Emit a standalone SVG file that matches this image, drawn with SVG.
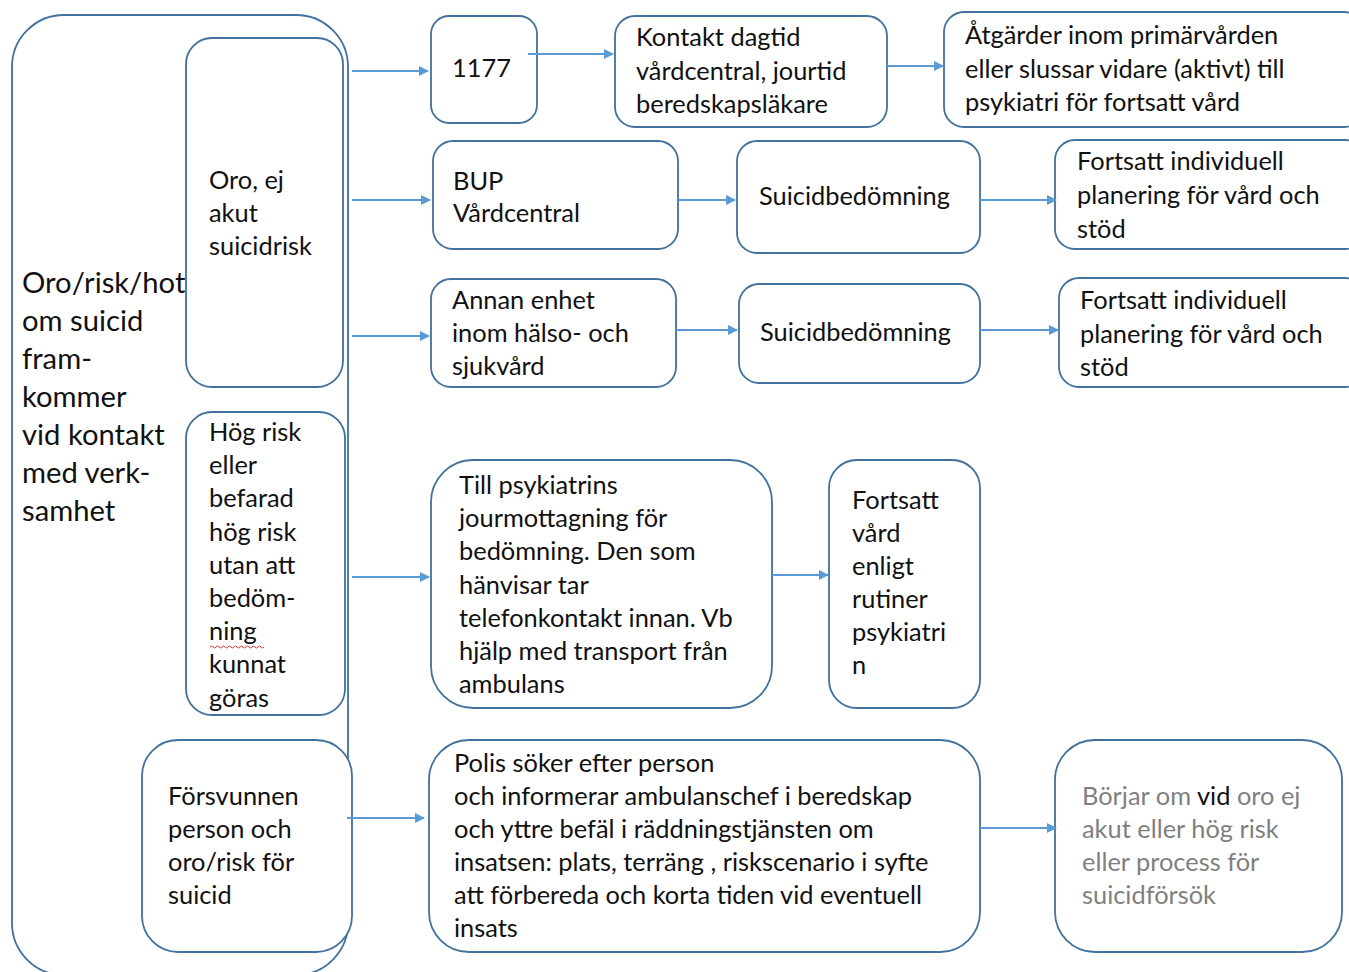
<svg xmlns="http://www.w3.org/2000/svg" width="1349" height="972" viewBox="0 0 1349 972">
<style>
.box{fill:#fff;stroke:#41719c;stroke-width:1.8}
.outer{fill:none;stroke:#41719c;stroke-width:1.8}
.t{font-family:Lato,"Open Sans","Liberation Sans",sans-serif;font-size:25.4px;fill:#111}
.big{font-family:Lato,"Open Sans","Liberation Sans",sans-serif;font-size:29.2px;fill:#111}
.g{fill:#7f7f7f}
.c{stroke:#5b9bd5;stroke-width:2;fill:none;marker-end:url(#ah)}
</style>
<defs>
<marker id="ah" viewBox="0 0 10 10" refX="9" refY="5" markerWidth="5" markerHeight="5" orient="auto" markerUnits="strokeWidth">
<path d="M0,0 L10,5 L0,10 z" fill="#5b9bd5"/>
</marker>
</defs>
<rect width="1349" height="972" fill="#fff"/>

<g id="outer">
<rect class="outer" x="12" y="15" width="336" height="960" rx="52" ry="52"/>
<text class="big" x="22" y="293">Oro/risk/hot<tspan x="22" dy="38">om suicid</tspan><tspan x="22" dy="38">fram-</tspan><tspan x="22" dy="38">kommer</tspan><tspan x="22" dy="38">vid kontakt</tspan><tspan x="22" dy="38">med verk-</tspan><tspan x="22" dy="38">samhet</tspan></text>
</g>

<g id="n-oro">
<rect class="box" x="186" y="38" width="157" height="349" rx="26"/>
<text class="t" x="209" y="189">Oro, ej<tspan x="209" dy="33">akut</tspan><tspan x="209" dy="33">suicidrisk</tspan></text>
</g>

<g id="n-hog">
<rect class="box" x="186" y="412" width="159" height="303" rx="26"/>
<text class="t" x="209" y="441">Hög risk<tspan x="209" dy="33.2">eller</tspan><tspan x="209" dy="33.2">befarad</tspan><tspan x="209" dy="33.2">hög risk</tspan><tspan x="209" dy="33.2">utan att</tspan><tspan x="209" dy="33.2">bedöm-</tspan><tspan x="209" dy="33.2">ning</tspan><tspan x="209" dy="33.2">kunnat</tspan><tspan x="209" dy="33.2">göras</tspan></text>
<path d="M210,647 q1.5,-2 3,0 t3,0 t3,0 t3,0 t3,0 t3,0 t3,0 t3,0 t3,0 t3,0 t3,0 t3,0 t3,0 t3,0 t3,0 t3,0 t3,0 t3,0" fill="none" stroke="#e03030" stroke-width="1"/>
</g>

<g id="n-forsv">
<rect class="box" x="142" y="740" width="210" height="212" rx="36"/>
<text class="t" x="168" y="805">Försvunnen<tspan x="168" dy="33">person och</tspan><tspan x="168" dy="33">oro/risk för</tspan><tspan x="168" dy="33">suicid</tspan></text>
</g>

<g id="n-1177">
<rect class="box" x="431" y="16" width="106" height="107" rx="18"/>
<text class="t" x="452" y="77">1177</text>
</g>

<g id="n-kontakt">
<rect class="box" x="615" y="16" width="272" height="111" rx="20"/>
<text class="t" x="636" y="46">Kontakt dagtid<tspan x="636" dy="33.5">vårdcentral, jourtid</tspan><tspan x="636" dy="33.5">beredskapsläkare</tspan></text>
</g>

<g id="n-atgarder">
<rect class="box" x="944" y="12" width="420" height="115" rx="20"/>
<text class="t" x="965" y="44">Åtgärder inom primärvården<tspan x="965" dy="33.5">eller slussar vidare (aktivt) till</tspan><tspan x="965" dy="33.5">psykiatri för fortsatt vård</tspan></text>
</g>

<g id="n-bup">
<rect class="box" x="433" y="141" width="245" height="108" rx="20"/>
<text class="t" x="453" y="190">BUP<tspan x="453" dy="32">Vårdcentral</tspan></text>
</g>

<g id="n-suicid1">
<rect class="box" x="737" y="141" width="243" height="112" rx="20"/>
<text class="t" x="759" y="205">Suicidbedömning</text>
</g>

<g id="n-fortsatt1">
<rect class="box" x="1055" y="140" width="310" height="109" rx="20"/>
<text class="t" x="1077" y="170">Fortsatt individuell<tspan x="1077" dy="34">planering för vård och</tspan><tspan x="1077" dy="34">stöd</tspan></text>
</g>

<g id="n-annan">
<rect class="box" x="431" y="279" width="245" height="108" rx="20"/>
<text class="t" x="452" y="309">Annan enhet<tspan x="452" dy="33">inom hälso- och</tspan><tspan x="452" dy="33">sjukvård</tspan></text>
</g>

<g id="n-suicid2">
<rect class="box" x="739" y="284" width="241" height="99" rx="20"/>
<text class="t" x="760" y="341">Suicidbedömning</text>
</g>

<g id="n-fortsatt2">
<rect class="box" x="1059" y="278" width="306" height="109" rx="20"/>
<text class="t" x="1080" y="309">Fortsatt individuell<tspan x="1080" dy="34">planering för vård och</tspan><tspan x="1080" dy="33">stöd</tspan></text>
</g>

<g id="n-till">
<rect class="box" x="431" y="460" width="341" height="248" rx="42"/>
<text class="t" x="459" y="494">Till psykiatrins<tspan x="459" dy="33.2">jourmottagning för</tspan><tspan x="459" dy="33.2">bedömning. Den som</tspan><tspan x="459" dy="33.2">hänvisar tar</tspan><tspan x="459" dy="33.2">telefonkontakt innan. Vb</tspan><tspan x="459" dy="33.2">hjälp med transport från</tspan><tspan x="459" dy="33.2">ambulans</tspan></text>
</g>

<g id="n-fortsattvard">
<rect class="box" x="829" y="460" width="151" height="248" rx="28"/>
<text class="t" x="852" y="509">Fortsatt<tspan x="852" dy="33">vård</tspan><tspan x="852" dy="33">enligt</tspan><tspan x="852" dy="33">rutiner</tspan><tspan x="852" dy="33">psykiatri</tspan><tspan x="852" dy="33">n</tspan></text>
</g>

<g id="n-polis">
<rect class="box" x="429" y="740" width="551" height="212" rx="40"/>
<text class="t" x="454" y="772">Polis söker efter person<tspan x="454" dy="33">och informerar ambulanschef i beredskap</tspan><tspan x="454" dy="33">och yttre befäl i räddningstjänsten om</tspan><tspan x="454" dy="33">insatsen: plats, terräng , riskscenario i syfte</tspan><tspan x="454" dy="33">att förbereda och korta tiden vid eventuell</tspan><tspan x="454" dy="33">insats</tspan></text>
</g>

<g id="n-borjar">
<rect class="box" x="1055" y="740" width="287" height="212" rx="40"/>
<text class="t g" x="1082" y="805">Börjar om <tspan fill="#111">vid</tspan> oro ej<tspan x="1082" dy="33">akut eller hög risk</tspan><tspan x="1082" dy="33">eller process för</tspan><tspan x="1082" dy="33">suicidförsök</tspan></text>
</g>

<g id="connectors">
<path class="c" d="M352,71 H428"/>
<path class="c" d="M528,54 H613"/>
<path class="c" d="M887,66 H943"/>
<path class="c" d="M352,200 H430"/>
<path class="c" d="M678,200 H735"/>
<path class="c" d="M980,200 H1056"/>
<path class="c" d="M352,336 H429"/>
<path class="c" d="M676,330 H737"/>
<path class="c" d="M980,330 H1058"/>
<path class="c" d="M352,577 H429"/>
<path class="c" d="M772,575 H828"/>
<path class="c" d="M347,818 H424"/>
<path class="c" d="M980,828 H1056"/>
</g>
</svg>
